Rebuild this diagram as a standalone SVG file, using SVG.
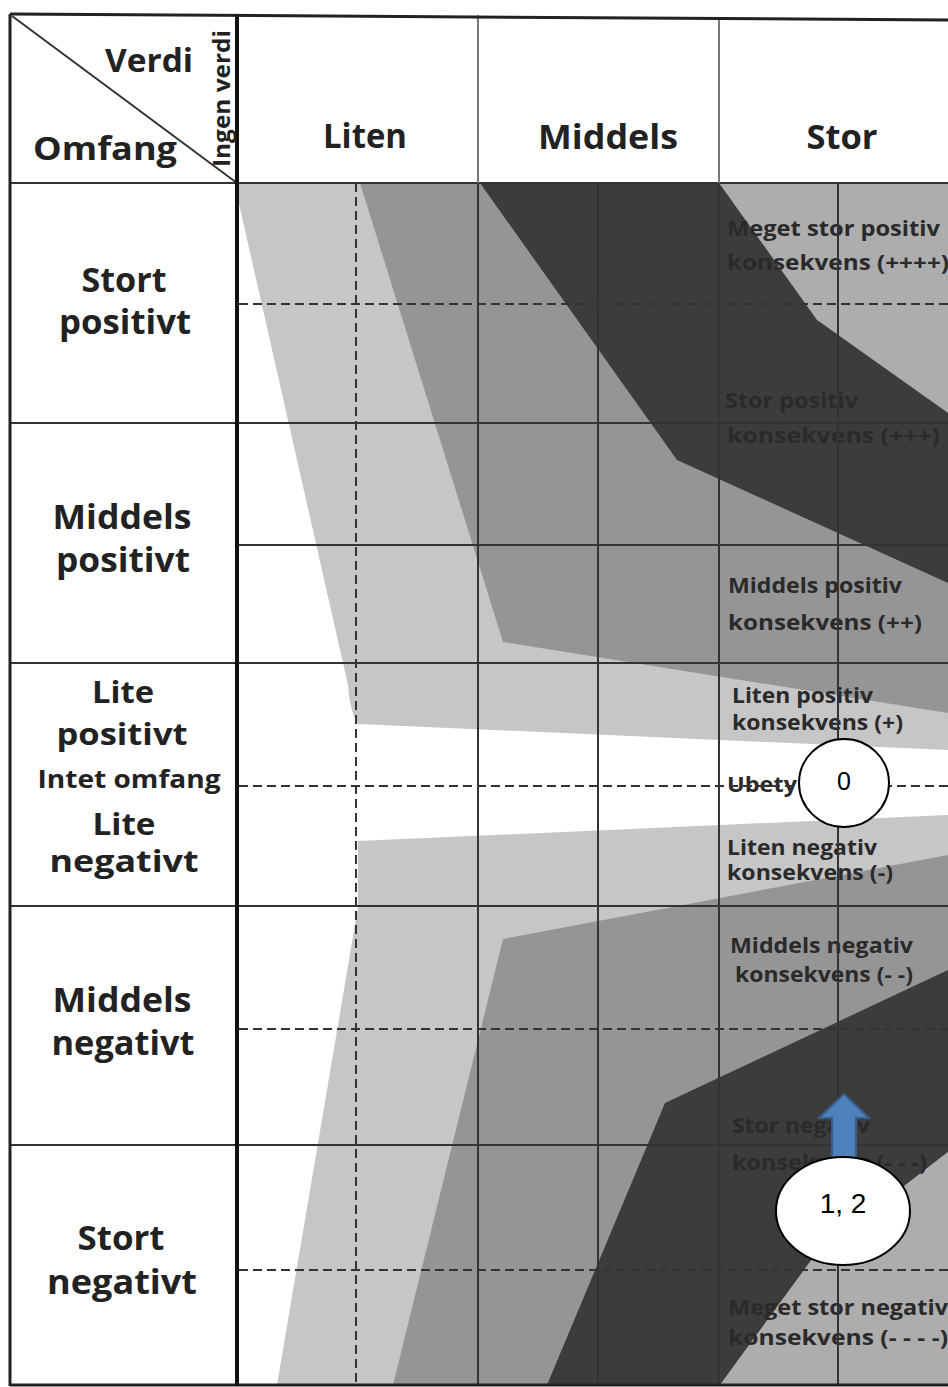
<svg xmlns="http://www.w3.org/2000/svg" width="948" height="1387" viewBox="0 0 948 1387">
<style>
.lt{fill:#c6c6c6}.md{fill:#959595}.dk{fill:#3c3c3c}.cr{fill:#adadad}
.g{stroke:#333;stroke-width:2;fill:none}
.gd{stroke:#333;stroke-width:2;fill:none;stroke-dasharray:9 5}
.hd{stroke:#777;stroke-width:2;fill:none}
.lb{font-family:"Open Sans","Noto Sans",sans-serif;font-weight:700;font-size:34px;fill:#222;text-anchor:middle}
.sm{font-size:31px}
.hl{font-family:"Open Sans","Noto Sans",sans-serif;font-weight:700;font-size:33px;fill:#222}
.ct{font-family:"Open Sans","Noto Sans",sans-serif;font-weight:700;font-size:22px;fill:#2a2a2a}
.nt{font-family:"Liberation Sans",Arial,sans-serif;fill:#000;text-anchor:middle}
.nd{fill:#fff;stroke:#000;stroke-width:2}
</style>
<rect width="948" height="1387" fill="#fff"/>
<g id="bands">
<path class="lt" d="M237,183 L948,183 L948,750 L358,724 Q350,712 348,685 L237,195 Z"/>
<path class="md" d="M360,183 L948,183 L948,713 L503,642 Z"/>
<path class="cr" d="M719,183 L948,183 L948,413 L817,320 Z"/>
<path class="dk" d="M480,183 L719,183 L817,320 L948,413 L948,583 L677,460 Z"/>
<path class="lt" d="M358,841 L948,815 L948,1385 L277,1385 L358,907 Z"/>
<path class="md" d="M503,939 L948,855 L948,1385 L393,1385 Z"/>
<path class="dk" d="M665,1103 L948,970 L948,1152 L815,1255 L720,1385 L547,1385 Z"/>
<path class="cr" d="M720,1385 L815,1255 L948,1152 L948,1385 Z"/>
</g>
<g id="consequence-labels">
<text class="ct" x="727" y="236" textLength="213" lengthAdjust="spacingAndGlyphs">Meget stor positiv</text>
<text class="ct" x="727" y="270" textLength="222" lengthAdjust="spacingAndGlyphs">konsekvens (++++)</text>
<text class="ct" x="725" y="408" textLength="133" lengthAdjust="spacingAndGlyphs">Stor positiv</text>
<text class="ct" x="727" y="443" textLength="213" lengthAdjust="spacingAndGlyphs">konsekvens  (+++)</text>
<text class="ct" x="728" y="593" textLength="174" lengthAdjust="spacingAndGlyphs">Middels positiv</text>
<text class="ct" x="728" y="630" textLength="194" lengthAdjust="spacingAndGlyphs">konsekvens (++)</text>
<text class="ct" x="732" y="703" textLength="141" lengthAdjust="spacingAndGlyphs">Liten positiv</text>
<text class="ct" x="732" y="730" textLength="171" lengthAdjust="spacingAndGlyphs">konsekvens (+)</text>
<text class="ct" x="727" y="792" textLength="70" lengthAdjust="spacingAndGlyphs">Ubety</text>
<text class="ct" x="727" y="855" textLength="150" lengthAdjust="spacingAndGlyphs">Liten negativ</text>
<text class="ct" x="727" y="880" textLength="166" lengthAdjust="spacingAndGlyphs">konsekvens (-)</text>
<text class="ct" x="730" y="953" textLength="183" lengthAdjust="spacingAndGlyphs">Middels negativ</text>
<text class="ct" x="735" y="982" textLength="178" lengthAdjust="spacingAndGlyphs">konsekvens (- -)</text>
<text class="ct" x="732" y="1133" textLength="138" lengthAdjust="spacingAndGlyphs">Stor negativ</text>
<text class="ct" x="732" y="1170" textLength="195" lengthAdjust="spacingAndGlyphs">konsekvens (- - -)</text>
<text class="ct" x="728" y="1315" textLength="220" lengthAdjust="spacingAndGlyphs">Meget stor negativ</text>
<text class="ct" x="728" y="1345" textLength="220" lengthAdjust="spacingAndGlyphs">konsekvens  (- - - -)</text>
</g>
<g id="grid">
<line class="g" x1="10" y1="183" x2="948" y2="183"/>
<line class="gd" x1="239" y1="304" x2="948" y2="304"/>
<line class="g" x1="10" y1="423" x2="948" y2="423"/>
<line class="g" x1="237" y1="545" x2="948" y2="545"/>
<line class="g" x1="10" y1="663" x2="948" y2="663"/>
<line class="gd" x1="239" y1="786" x2="948" y2="786"/>
<line class="g" x1="10" y1="906" x2="948" y2="906"/>
<line class="gd" x1="239" y1="1029" x2="948" y2="1029"/>
<line class="g" x1="10" y1="1145" x2="948" y2="1145"/>
<line class="gd" x1="239" y1="1270" x2="948" y2="1270"/>
<line class="gd" x1="356" y1="183" x2="356" y2="1385"/>
<line class="hd" x1="478" y1="15" x2="478" y2="183"/>
<line class="g" x1="478" y1="183" x2="478" y2="1385"/>
<line class="g" x1="598" y1="183" x2="598" y2="1385"/>
<line class="hd" x1="719" y1="17" x2="719" y2="183"/>
<line class="g" x1="719" y1="183" x2="719" y2="1385"/>
<line class="g" x1="838" y1="183" x2="838" y2="1385"/>
<line class="g" x1="12" y1="16" x2="237" y2="183"/>
</g>
<g id="frame">
<line stroke="#222" stroke-width="3" x1="10" y1="14" x2="948" y2="20"/>
<line stroke="#222" stroke-width="3" x1="10" y1="14" x2="10" y2="1386"/>
<line stroke="#222" stroke-width="3" x1="10" y1="1385" x2="948" y2="1385"/>
<line stroke="#111" stroke-width="4" x1="237" y1="15" x2="237" y2="1386"/>
</g>
<g id="header">
<text class="hl" x="105" y="72" textLength="88" lengthAdjust="spacingAndGlyphs">Verdi</text>
<text class="hl" x="33" y="160" textLength="144" lengthAdjust="spacingAndGlyphs">Omfang</text>
<text class="hl" transform="translate(230,167) rotate(-90)" x="0" y="0" style="font-size:23px" textLength="137" lengthAdjust="spacingAndGlyphs">Ingen verdi</text>
<text class="lb" x="365" y="148" textLength="84" lengthAdjust="spacingAndGlyphs">Liten</text>
<text class="lb" x="608" y="149" textLength="140" lengthAdjust="spacingAndGlyphs">Middels</text>
<text class="lb" x="842" y="149" textLength="71" lengthAdjust="spacingAndGlyphs">Stor</text>
</g>
<g id="row-labels">
<text class="lb" x="124" y="292" textLength="85" lengthAdjust="spacingAndGlyphs">Stort</text>
<text class="lb" x="125" y="334" textLength="132" lengthAdjust="spacingAndGlyphs">positivt</text>
<text class="lb" x="122" y="529" textLength="139" lengthAdjust="spacingAndGlyphs">Middels</text>
<text class="lb" x="123" y="572" textLength="134" lengthAdjust="spacingAndGlyphs">positivt</text>
<text class="lb sm" x="123" y="703" textLength="62" lengthAdjust="spacingAndGlyphs">Lite</text>
<text class="lb sm" x="122" y="745" textLength="131" lengthAdjust="spacingAndGlyphs">positivt</text>
<text class="lb" x="129" y="788" style="font-size:25px" textLength="183" lengthAdjust="spacingAndGlyphs">Intet omfang</text>
<text class="lb sm" x="124" y="835" textLength="63" lengthAdjust="spacingAndGlyphs">Lite</text>
<text class="lb sm" x="124" y="872" textLength="149" lengthAdjust="spacingAndGlyphs">negativt</text>
<text class="lb" x="122" y="1012" textLength="139" lengthAdjust="spacingAndGlyphs">Middels</text>
<text class="lb" x="123" y="1055" textLength="143" lengthAdjust="spacingAndGlyphs">negativt</text>
<text class="lb" x="121" y="1250" textLength="87" lengthAdjust="spacingAndGlyphs">Stort</text>
<text class="lb" x="122" y="1294" textLength="150" lengthAdjust="spacingAndGlyphs">negativt</text>
</g>
<g id="connectors">
<path d="M832,1158 L832,1118 L819,1118 L844,1094 L869,1118 L856,1118 L856,1158 Z" fill="#4f81bd" stroke="#385d8a" stroke-width="2"/>
</g>
<g id="node-0">
<ellipse class="nd" cx="844" cy="783" rx="45" ry="44"/>
<text class="nt" x="844" y="790" style="font-size:25px">0</text>
</g>
<g id="node-12">
<ellipse class="nd" cx="843" cy="1211" rx="67" ry="54"/>
<text class="nt" x="843" y="1213" style="font-size:28px">1, 2</text>
</g>
</svg>
